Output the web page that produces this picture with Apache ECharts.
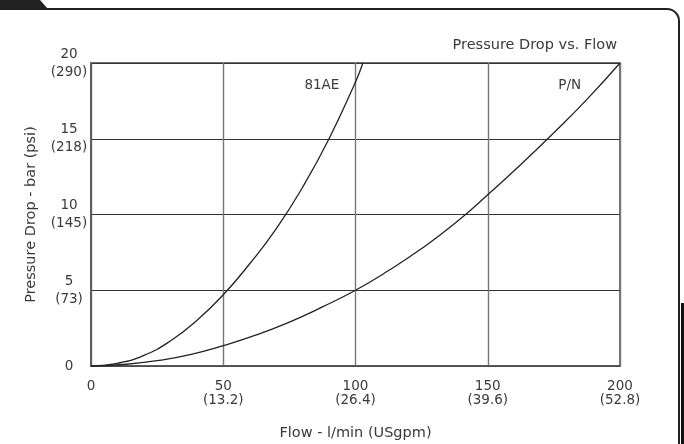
<!DOCTYPE html>
<html>
<head>
<meta charset="utf-8">
<script src="https://cdn.jsdelivr.net/npm/echarts@6/dist/echarts.min.js"></script>
<style>
html,body{margin:0;padding:0;background:#fff;}
#chart{width:684px;height:444px;}
</style>
</head>
<body>
<div id="chart"></div>
<script>
// Data
const title = 'Pressure Drop vs. Flow';
const xAxisName = 'Flow - l/min (USgpm)';
const yAxisName = 'Pressure Drop - bar (psi)';
const xTickLabels = {0: '0', 50: '50\n(13.2)', 100: '100\n(26.4)', 150: '150\n(39.6)', 200: '200\n(52.8)'};
const yTickLabels = {0: '0', 5: '5\n(73)', 10: '10\n(145)', 15: '15\n(218)', 20: '20\n(290)'};
const seriesNames = ['81AE', 'P/N'];
const flow81AE = [0, 10, 20, 30, 40, 50, 60, 70, 80, 90, 100, 102.8];
const drop81AE = [0, 0.18, 0.7, 1.65, 3.0, 4.7, 6.75, 9.05, 11.8, 15.0, 18.75, 20];
const flowPN = [0, 12.5, 25, 37.5, 50, 62.5, 75, 87.5, 100, 112.5, 125, 137.5, 150, 162.5, 175, 187.5, 200];
const dropPN = [0, 0.1, 0.35, 0.75, 1.34, 2.05, 2.9, 3.9, 5.0, 6.3, 7.75, 9.4, 11.3, 13.3, 15.4, 17.6, 20];
const labelPos81AE = [87.3, 18.5];
const labelPosPN = [181, 18.5];

const FONT = 'DejaVu Sans';
const TXT = '#3a3a3a';
const zip = (xs, ys) => xs.map((x, i) => [x, ys[i]]);

const chart = echarts.init(document.getElementById('chart'), null, {renderer: 'canvas'});
const lineLabel = (coord, name) => ({
  symbol: 'circle',
  symbolSize: 1,
  silent: true,
  itemStyle: {color: 'rgba(0,0,0,0)'},
  label: {show: true, position: 'inside', color: TXT, fontFamily: FONT, fontSize: 13.5, formatter: name},
  data: [{coord: coord, value: name}]
});

chart.setOption({
  animation: false,
  backgroundColor: '#fff',
  title: {
    text: title, right: 62, top: 33,
    textStyle: {color: TXT, fontFamily: FONT, fontSize: 14.5, fontWeight: 'normal'}
  },
  grid: {left: 91, right: 64, top: 63, bottom: 78, outerBoundsMode: 'none', containLabel: false,
    show: true, borderColor: '#444', borderWidth: 1.5, backgroundColor: 'transparent'},
  xAxis: {
    type: 'value', min: 0, max: 200, interval: 50,
    name: xAxisName, nameLocation: 'middle', nameGap: 60,
    nameTextStyle: {color: TXT, fontFamily: FONT, fontSize: 14.5},
    axisLine: {show: true, lineStyle: {color: '#555', width: 1.5}},
    axisTick: {show: false},
    splitLine: {show: true, lineStyle: {color: '#777', width: 1.4}},
    axisLabel: {color: TXT, fontFamily: FONT, fontSize: 13.5, lineHeight: 14, margin: 13,
      verticalAlign: 'top', formatter: v => xTickLabels[v] || ''}
  },
  yAxis: {
    type: 'value', min: 0, max: 20, interval: 5,
    name: yAxisName, nameLocation: 'middle', nameGap: 52, nameRotate: 90,
    nameTextStyle: {color: TXT, fontFamily: FONT, fontSize: 14.5},
    axisLine: {show: true, lineStyle: {color: '#555', width: 1.5}},
    axisTick: {show: false},
    splitLine: {show: true, lineStyle: {color: '#333', width: 1.2}},
    axisLabel: {color: TXT, fontFamily: FONT, fontSize: 13.5, lineHeight: 18, margin: 22, align: 'center',
      formatter: v => yTickLabels[v] || ''}
  },
  graphic: [
    {type: 'rect', z: 100, shape: {x: -20, y: 9, width: 699, height: 460, r: [0, 12, 0, 0]},
      style: {fill: 'none', stroke: '#222', lineWidth: 2}},
    {type: 'polygon', z: 100, shape: {points: [[0, 0], [40, 0], [48, 9], [0, 9]]}, style: {fill: '#222'}},
    {type: 'rect', z: 100, shape: {x: 681, y: 303, width: 4, height: 141}, style: {fill: '#111'}}
  ],
  series: [
    {
      name: seriesNames[0], type: 'line', smooth: 0.5, showSymbol: false, symbol: 'none',
      lineStyle: {color: '#222', width: 1.3},
      data: zip(flow81AE, drop81AE),
      markPoint: lineLabel(labelPos81AE, seriesNames[0])
    },
    {
      name: seriesNames[1], type: 'line', smooth: 0.5, showSymbol: false, symbol: 'none',
      lineStyle: {color: '#222', width: 1.3},
      data: zip(flowPN, dropPN),
      markPoint: lineLabel(labelPosPN, seriesNames[1])
    }
  ]
});
</script>
</body>
</html>
